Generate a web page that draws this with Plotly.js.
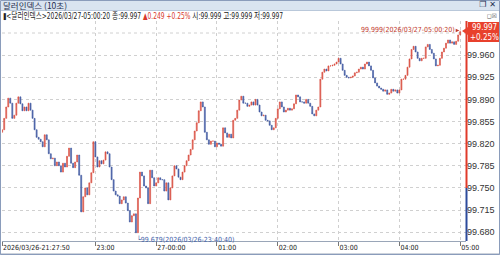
<!DOCTYPE html>
<html>
<head>
<meta charset="utf-8">
<script src="https://cdn.plot.ly/plotly-3.0.1.min.js"></script>
<style>
html,body{margin:0;padding:0;background:#fff;}
#wrap{position:relative;width:500px;height:255px;overflow:hidden;}
#chart{position:absolute;left:0;top:0;width:500px;height:255px;}
#titlebar{position:absolute;left:1px;top:1px;width:498px;height:9px;background:#d9e4f0;border-bottom:1px solid #b9c8da;}
#titletext{position:absolute;left:2px;top:-1px;font-family:'Noto Sans CJK KR',sans-serif;font-size:8.5px;line-height:10px;color:#1f2f4f;white-space:nowrap;}
#winicons{position:absolute;right:3px;top:-1px;font-family:'DejaVu Sans',sans-serif;font-size:8px;line-height:10px;color:#1f2f4f;font-weight:bold;}
#infoline{position:absolute;left:3px;top:11px;font-family:'DejaVu Sans Condensed','Noto Sans CJK KR',sans-serif;font-size:9px;line-height:10px;color:#222;white-space:nowrap;transform-origin:0 50%;}
#boxicons{position:absolute;right:3px;top:11px;font-family:'DejaVu Sans',sans-serif;font-size:6px;line-height:9px;color:#555;}
</style>
</head>
<body>
<div id="wrap">
<div id="chart"></div>
<div id="titlebar"><span id="titletext"></span><span id="winicons">❐ ✕</span></div>
<div id="infoline"></div>
<div id="boxicons">◻☒</div>
</div>
<script>
// ---- data ----
const startTime = '2026-03-26 21:28:00';   // first 2-minute sample
const stepMinutes = 2;
const closes = [
99.842,99.860,99.878,99.892,99.884,99.860,99.865,99.884,99.894,99.883,
99.872,99.878,99.872,99.884,99.873,99.860,99.842,99.830,99.827,99.823,
99.815,99.834,99.826,99.804,99.796,99.797,99.785,99.791,99.785,99.775,
99.789,99.783,99.800,99.813,99.789,99.782,99.791,99.802,99.770,99.712,
99.736,99.750,99.739,99.758,99.774,99.823,99.799,99.783,99.793,99.788,
99.794,99.807,99.804,99.783,99.763,99.745,99.739,99.737,99.725,99.731,
99.736,99.726,99.714,99.696,99.706,99.709,99.679,99.734,99.775,99.769,
99.753,99.750,99.725,99.778,99.766,99.753,99.758,99.766,99.763,99.763,
99.745,99.758,99.731,99.750,99.769,99.785,99.780,99.767,99.763,99.775,
99.785,99.793,99.802,99.811,99.826,99.840,99.853,99.872,99.886,99.878,
99.838,99.826,99.819,99.824,99.824,99.815,99.821,99.819,99.816,99.845,
99.837,99.830,99.835,99.829,99.857,99.860,99.873,99.889,99.895,99.884,
99.884,99.879,99.881,99.886,99.881,99.890,99.881,99.870,99.864,99.865,
99.857,99.856,99.849,99.842,99.845,99.860,99.875,99.886,99.878,99.870,
99.873,99.876,99.873,99.875,99.883,99.897,99.894,99.886,99.886,99.884,
99.890,99.884,99.879,99.867,99.864,99.873,99.878,99.922,99.933,99.938,
99.935,99.943,99.943,99.944,99.946,99.949,99.955,99.946,99.936,99.928,
99.925,99.924,99.925,99.927,99.932,99.933,99.938,99.941,99.938,99.946,
99.949,99.943,99.936,99.924,99.916,99.911,99.908,99.906,99.903,99.905,
99.898,99.900,99.906,99.903,99.905,99.900,99.905,99.922,99.922,99.928,
99.941,99.954,99.969,99.974,99.965,99.955,99.951,99.955,99.955,99.973,
99.977,99.969,99.963,99.954,99.943,99.944,99.955,99.965,99.971,99.979,
99.984,99.979,99.981,99.977,99.982,99.992,99.997
];
const firstOpen = 99.838;
const maxPoint = {time:'2026-03-27 05:00:00', value:99.999, label:'99.999(2026/03/27-05:00:20)'};
const minPoint = {time:'2026-03-26 23:40:40', value:99.679, label:'└99.679(2026/03/26-23:40:40)'};
const yTicks = [99.680,99.715,99.750,99.785,99.820,99.855,99.890,99.925,99.960];
const xTickVals = ['2026-03-26 21:27:50','2026-03-26 23:00:00','2026-03-27 00:00:00','2026-03-27 01:00:00',
                   '2026-03-27 02:00:00','2026-03-27 03:00:00','2026-03-27 04:00:00','2026-03-27 05:00:00'];
const xTickText = ['2026/03/26-21:27:50','23:00','27-00:00','01:00','02:00','03:00','04:00','05:00'];
const titleText = '달러인덱스 (10초)';
const infoLeft = '▮<달러인덱스>2026/03/27-05:00:20 종:99.997 ';
const infoChange = '▲0.249 +0.25%';
const infoRight = ' 시:99.999 고:99.999 저:99.997';
const lastPrice = '99.997';
const lastPct = '+0.25%';

// ---- header texts ----
const RED = '#d8392b', BLUE = '#2c4b9c';
document.getElementById('titletext').textContent = titleText;
const info = document.getElementById('infoline');
const s1 = document.createElement('span'); s1.textContent = infoLeft;
const s2 = document.createElement('span'); s2.textContent = infoChange; s2.style.color = RED;
const s3 = document.createElement('span'); s3.textContent = infoRight;
info.append(s1,s2,s3);
const infoW = info.getBoundingClientRect().width;
info.style.transform = 'scaleX(' + (280/infoW).toFixed(3) + ')';

// ---- build OHLC from the read closes ----
function fmt(ms){ return new Date(ms).toISOString().replace('T',' ').slice(0,19); }
const t0 = Date.parse(startTime.replace(' ','T')+'Z');
const times = closes.map((c,i)=>fmt(t0 + i*stepMinutes*60000));
const opens = closes.map((c,i)=> i===0 ? firstOpen : closes[i-1]);
const highs = closes.map((c,i)=> Math.max(c, opens[i]));
const lows  = closes.map((c,i)=> Math.min(c, opens[i]));
highs[highs.length-1] = maxPoint.value;

const narrow = 'DejaVu Sans Condensed, Liberation Sans Narrow, sans-serif';

// pixel helpers for decoration in paper coords (plot: x 2..466, y 21..241)
const px = X => (X-2)/464;
const py = Y => (241-Y)/220;

const trace = {
  type:'candlestick', x:times, open:opens, high:highs, low:lows, close:closes,
  increasing:{line:{color:'#d9493c',width:0.6},fillcolor:'#e06a5e'},
  decreasing:{line:{color:'#3a549e',width:0.6},fillcolor:'#5a70b0'},
  whiskerwidth:0, hoverinfo:'skip', showlegend:false
};

const shapes = [
  {type:'line',xref:'paper',yref:'y',x0:0,x1:1,y0:99.995,y1:99.995,line:{color:'#d0d0d0',width:1,dash:'dot'},layer:'below'},
  {type:'line',xref:'paper',yref:'paper',x0:px(466.5),x1:px(466.5),y0:py(188),y1:py(21),line:{color:'#e03a2a',width:2}},
  {type:'line',xref:'paper',yref:'paper',x0:px(466.5),x1:px(466.5),y0:py(241),y1:py(188),line:{color:BLUE,width:2}},
  {type:'path',xref:'paper',yref:'paper',
   path:`M ${px(468)},${py(22)} L ${px(500)},${py(22)} L ${px(500)},${py(42)} L ${px(468)},${py(42)} L ${px(468)},${py(35)} L ${px(462)},${py(31)} L ${px(468)},${py(27)} Z`,
   fillcolor:'#e8402c',line:{width:0}},
  {type:'line',xref:'paper',yref:'paper',x0:px(0),x1:px(500),y0:py(254),y1:py(254),line:{color:'#9aa6b8',width:1}},
  {type:'rect',xref:'paper',yref:'paper',x0:px(0.5),x1:px(499.5),y0:py(254.5),y1:py(0.5),line:{color:'#8a9cbb',width:1},fillcolor:'rgba(0,0,0,0)'}
];

const annotations = [
  {xref:'paper',yref:'paper',x:px(484),y:py(27.5),xanchor:'center',yanchor:'middle',showarrow:false,
   text:lastPrice,font:{family:narrow,size:8,color:'#fff'}},
  {xref:'paper',yref:'paper',x:px(484),y:py(37),xanchor:'center',yanchor:'middle',showarrow:false,
   text:lastPct,font:{family:narrow,size:8,color:'#fff'}},
  {x:maxPoint.time,y:maxPoint.value,xref:'x',yref:'y',text:maxPoint.label,showarrow:true,
   ax:-52,ay:0,arrowhead:2,arrowsize:0.7,arrowwidth:1,arrowcolor:'#c0392b',standoff:1,
   font:{family:narrow,size:7,color:'#c0392b'}},
  {x:minPoint.time,y:minPoint.value,xref:'x',yref:'y',text:minPoint.label,showarrow:false,
   xanchor:'left',yanchor:'middle',xshift:-2,yshift:-7,font:{family:narrow,size:7,color:'#4262a8'}}
];

const layout = {
  width:500,height:255,autosize:false,
  margin:{l:2,r:34,t:21,b:14,pad:0},
  paper_bgcolor:'#fff',plot_bgcolor:'#fff',
  showlegend:false,dragmode:false,
  xaxis:{type:'date',range:['2026-03-26 21:27:50','2026-03-27 05:05:44'],
    rangeslider:{visible:false},
    tickmode:'array',tickvals:xTickVals,ticktext:xTickText,
    ticks:'outside',ticklen:4,tickcolor:'#777',ticklabelposition:'outside right',
    tickfont:{family:narrow,size:7,color:'#222'},
    showgrid:true,gridcolor:'#cfcfcf',griddash:'dot',gridwidth:1,
    showline:true,linecolor:'#9aa6b8',linewidth:1,zeroline:false,fixedrange:true},
  yaxis:{side:'right',range:[99.666,100.014],
    tickmode:'array',tickvals:yTicks,ticktext:yTicks.map(v=>v.toFixed(3)),
    ticks:'',tickfont:{family:'Liberation Sans, Arial, sans-serif',size:9,color:'#333'},
    showgrid:true,gridcolor:'#d0d0d0',griddash:'dot',gridwidth:1,
    showline:false,zeroline:false,fixedrange:true},
  shapes:shapes,annotations:annotations
};

Plotly.newPlot('chart',[trace],layout,{staticPlot:true,displayModeBar:false});
</script>
</body>
</html>
